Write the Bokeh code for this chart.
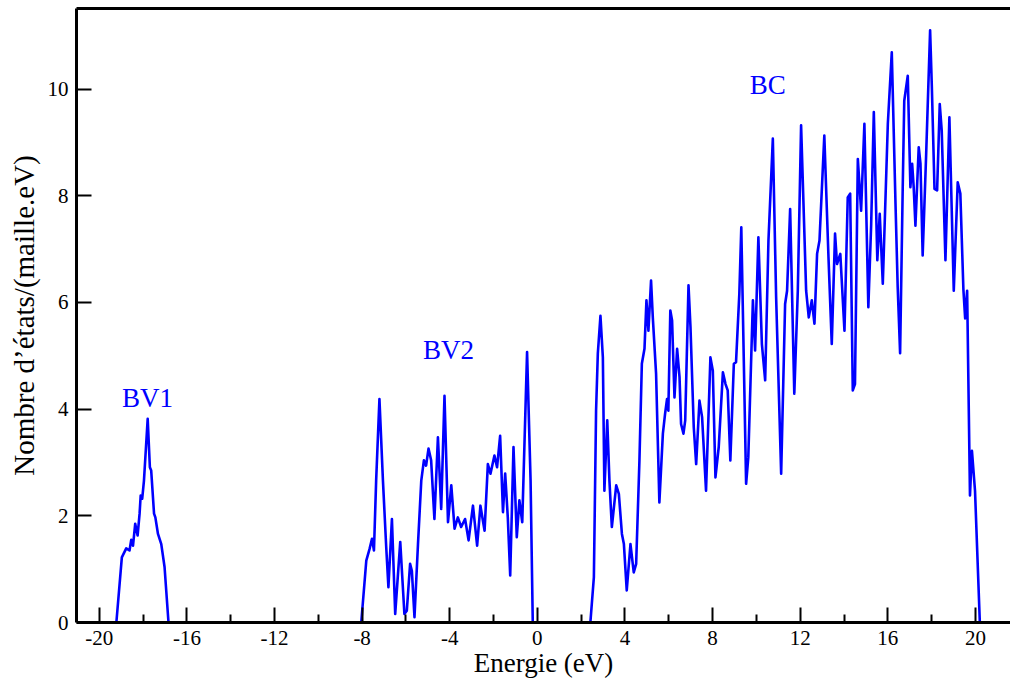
import numpy as np
from bokeh.plotting import figure
from bokeh.models import Range1d, FixedTicker, ColumnDataSource, LinearAxis
from bokeh.core.properties import value
from bokeh.embed import file_html
from bokeh.resources import INLINE

# ---- data ----
bv1_energy = [-19.22, -18.97, -18.77, -18.62, -18.54, -18.46, -18.36, -18.25, -18.16, -18.11,
              -18.04, -17.96, -17.79, -17.69, -17.63, -17.50, -17.44, -17.32, -17.17, -17.02, -16.84]
bv1_dos = [0, 1.22, 1.39, 1.35, 1.55, 1.44, 1.85, 1.63, 2.04, 2.38,
           2.32, 2.66, 3.82, 2.91, 2.85, 2.04, 1.97, 1.66, 1.47, 1.04, 0]

bv2_energy = [-8.04, -7.81, -7.66, -7.55, -7.46, -7.36, -7.21, -7.05, -6.90, -6.80,
              -6.64, -6.49, -6.26, -6.07, -5.96, -5.81, -5.73, -5.61, -5.45, -5.30,
              -5.18, -5.08, -4.97, -4.85, -4.70, -4.54, -4.39, -4.24, -4.08, -3.93,
              -3.78, -3.63, -3.48, -3.30, -3.14, -2.94, -2.75, -2.60, -2.41, -2.26,
              -2.14, -1.96, -1.84, -1.70, -1.57, -1.47, -1.35, -1.24, -1.09, -0.94,
              -0.82, -0.69, -0.47, -0.31, -0.21]
bv2_dos = [0, 1.16, 1.38, 1.57, 1.35, 2.66, 4.19, 2.66, 1.41, 0.66,
           1.94, 0.16, 1.51, 0.16, 0.22, 1.10, 0.97, 0.10, 1.47, 2.66,
           3.04, 2.94, 3.26, 3.04, 1.94, 3.47, 2.13, 4.25, 1.88, 2.57,
           1.76, 1.97, 1.79, 1.94, 1.54, 2.19, 1.44, 2.19, 1.72, 2.97,
           2.79, 3.13, 2.91, 3.50, 2.07, 2.79, 1.97, 0.88, 3.29, 1.60,
           2.29, 1.88, 5.07, 2.66, 0]

bc_energy = [2.42, 2.58, 2.68, 2.76, 2.88, 2.99, 3.06, 3.19, 3.29, 3.40,
             3.60, 3.72, 3.86, 3.95, 4.08, 4.25, 4.40, 4.51, 4.66, 4.77,
             4.89, 4.98, 5.07, 5.19, 5.27, 5.42, 5.57, 5.73, 5.83, 5.92,
             5.98, 6.07, 6.15, 6.26, 6.38, 6.49, 6.56, 6.67, 6.75, 6.90,
             6.99, 7.14, 7.25, 7.40, 7.52, 7.70, 7.90, 8.01, 8.13, 8.28,
             8.47, 8.59, 8.69, 8.81, 8.97, 9.07, 9.22, 9.31, 9.53, 9.63,
             9.84, 9.94, 10.09, 10.25, 10.40, 10.55, 10.75, 10.90, 11.13, 11.31,
             11.40, 11.54, 11.73, 11.89, 12.04, 12.27, 12.39, 12.53, 12.65, 12.77,
             12.88, 13.10, 13.29, 13.44, 13.59, 13.68, 13.83, 14.02, 14.17, 14.28,
             14.40, 14.50, 14.63, 14.78, 14.93, 15.11, 15.24, 15.36, 15.52, 15.63,
             15.77, 16.00, 16.18, 16.35, 16.45, 16.56, 16.68, 16.75, 16.91, 17.03,
             17.11, 17.18, 17.26, 17.41, 17.49, 17.59, 17.75, 17.93, 18.01, 18.13,
             18.25, 18.37, 18.46, 18.63, 18.81, 19.01, 19.19, 19.31, 19.45, 19.53,
             19.62, 19.75, 19.84, 19.98, 20.20]
bc_dos = [0, 0.85, 3.97, 5.04, 5.75, 4.97, 2.47, 3.79, 2.66, 1.79,
          2.57, 2.41, 1.66, 1.47, 0.60, 1.47, 0.94, 1.10, 3.04, 4.85,
          5.13, 6.04, 5.47, 6.41, 5.72, 4.66, 2.25, 3.54, 3.91, 4.19,
          3.97, 5.85, 5.66, 4.22, 5.13, 4.60, 3.72, 3.54, 3.79, 6.32,
          5.54, 3.66, 2.97, 4.16, 3.85, 2.47, 4.97, 4.72, 2.72, 3.29,
          4.69, 4.47, 4.35, 3.04, 4.85, 4.88, 6.16, 7.41, 2.60, 3.10,
          6.04, 5.10, 7.22, 5.22, 4.54, 7.16, 9.07, 6.10, 2.79, 5.97,
          6.22, 7.75, 4.29, 6.22, 9.32, 6.22, 5.72, 6.04, 5.60, 6.91,
          7.16, 9.13, 6.85, 5.22, 7.29, 6.72, 6.91, 5.47, 7.97, 8.04,
          4.35, 4.47, 8.69, 7.72, 9.35, 5.91, 7.47, 9.57, 6.79, 7.66,
          6.35, 9.35, 10.69, 7.85, 6.29, 5.05, 8.16, 9.78, 10.25, 8.16,
          8.60, 8.16, 7.44, 8.91, 8.60, 6.88, 8.78, 11.10, 10.03, 8.13,
          8.10, 9.72, 9.22, 6.79, 9.47, 6.22, 8.25, 8.04, 6.24, 5.70,
          6.22, 2.38, 3.22, 2.47, 0]

band_names = ["BV1", "BV2", "BC"]
band_label_energy = [-17.8, -4.06, 10.52]
band_label_dos = [4.21, 5.10, 10.07]

x_ticks = [-20, -16, -12, -8, -4, 0, 4, 8, 12, 16, 20]
x_tick_labels = ["-20", "-16", "-12", "-8", "-4", "0", "4", "8", "12", "16", "20"]
x_minor_ticks = [-18, -14, -10, -6, -2, 2, 6, 10, 14, 18]
y_ticks = [0, 2, 4, 6, 8, 10]
y_tick_labels = ["0", "2", "4", "6", "8", "10"]

SERIF = "Liberation Serif"
BLUE = "#0000ff"

# ---- figure ----
p = figure(width=1010, height=684, output_backend="svg", toolbar_location=None,
           x_range=Range1d(-21.04, 21.6), y_range=Range1d(0, 11.51),
           min_border_left=76, min_border_right=0, min_border_top=8, min_border_bottom=62)
p.background_fill_color = "white"
p.border_fill_color = "white"
p.xgrid.visible = False
p.ygrid.visible = False
p.outline_line_color = None

# curve: three bands separated by gaps
energy = bv1_energy + [np.nan] + bv2_energy + [np.nan] + bc_energy
dos = bv1_dos + [np.nan] + bv2_dos + [np.nan] + bc_dos
p.line(x=energy, y=dos, line_color=BLUE, line_width=2.6, line_join="round")

src = ColumnDataSource(dict(x=band_label_energy, y=band_label_dos, t=band_names))
p.text(x="x", y="y", text="t", source=src, text_color=BLUE,
       text_font=value(SERIF), text_font_size="27px",
       text_align="center", text_baseline="middle")

xa = p.xaxis[0]
xa.ticker = FixedTicker(ticks=x_ticks, minor_ticks=x_minor_ticks)
xa.major_label_overrides = {t: l for t, l in zip(x_ticks, x_tick_labels)}
xa.axis_label = "Energie (eV)"

ya = p.yaxis[0]
ya.ticker = FixedTicker(ticks=y_ticks, minor_ticks=[])
ya.major_label_overrides = {t: l for t, l in zip(y_ticks, y_tick_labels)}
ya.axis_label = "Nombre d\u2019\u00e9tats/(maille.eV)"

for ax in (xa, ya):
    ax.axis_line_color = "black"
    ax.axis_line_width = 3
    ax.major_tick_in = 15
    ax.major_tick_out = 0
    ax.minor_tick_in = 8
    ax.minor_tick_out = 0
    ax.major_tick_line_width = 2
    ax.minor_tick_line_width = 2
    ax.major_tick_line_color = "black"
    ax.minor_tick_line_color = "black"
    ax.major_label_text_font = SERIF
    ax.major_label_text_font_size = "21px"
    ax.major_label_text_color = "black"
    ax.axis_label_text_font = SERIF
    ax.axis_label_text_font_style = "normal"
    ax.axis_label_text_color = "black"

xa.axis_label_text_font_size = "27px"
ya.axis_label_text_font_size = "29px"
xa.major_label_standoff = 8
xa.axis_label_standoff = 0
ya.major_label_standoff = 8
ya.axis_label_standoff = 5

# top border line (no ticks, no labels)
top = LinearAxis(ticker=FixedTicker(ticks=[], minor_ticks=[]),
                 axis_line_color="black", axis_line_width=3,
                 major_tick_in=0, major_tick_out=0, minor_tick_in=0, minor_tick_out=0,
                 major_label_text_font_size="0px")
p.add_layout(top, "above")

open("out.html", "w").write(file_html(p, INLINE))
